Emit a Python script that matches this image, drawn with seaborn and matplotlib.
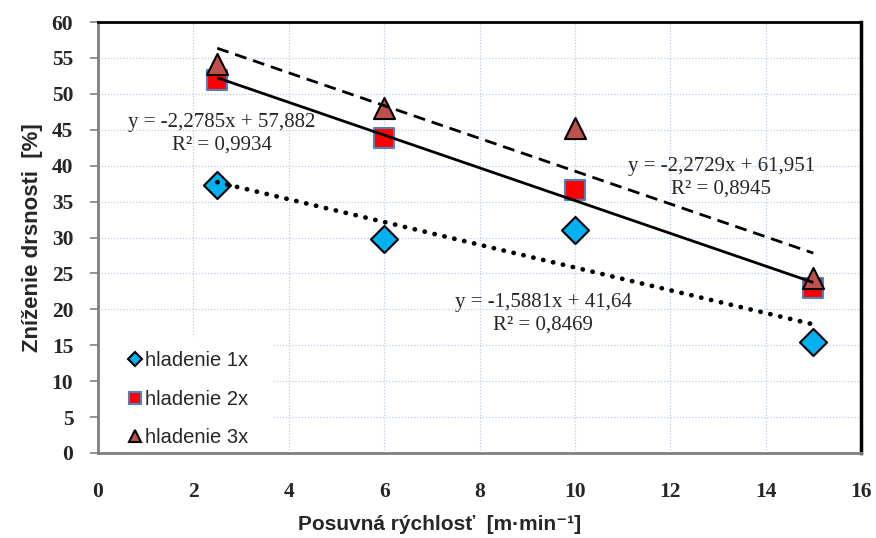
import numpy as np
import pandas as pd
import matplotlib
matplotlib.use("Agg")
import matplotlib.pyplot as plt
import seaborn as sns
from matplotlib.lines import Line2D
from matplotlib.patches import Rectangle

# data
x_vals = [2.5, 6, 10, 15]
h1 = [37.3, 29.8, 31.1, 15.4]
h2 = [52.0, 43.8, 36.6, 23.0]
h3 = [54.2, 48.0, 45.3, 24.3]
labels = ["hladenie 1x", "hladenie 2x", "hladenie 3x"]
eq_texts = ["y = -1,5881x + 41,64\nR² = 0,8469",
            "y = -2,2785x + 57,882\nR² = 0,9934",
            "y = -2,2729x + 61,951\nR² = 0,8945"]
x_ticks = [0, 2, 4, 6, 8, 10, 12, 14, 16]
y_ticks = list(range(0, 61, 5))

sns.set_theme(style="white")
plt.rcParams['font.family'] = ['Liberation Serif', 'DejaVu Serif']

fig = plt.figure(figsize=(8.76, 5.38), dpi=100)
ax = fig.add_axes([0.1119, 0.158, 0.871, 0.801])

series = [
    dict(y=h1, marker="D", face="#00B0F0", edge="black", s=190, ls=(0, (0.05, 2.1)), lw=3.4, cap="round"),
    dict(y=h2, marker="s", face="#FF0000", edge="#4F81BD", s=190, ls="-", lw=2.0, cap="butt"),
    dict(y=h3, marker="^", face="#C0504D", edge="black", s=230, ls=(0, (4.3, 2.5)), lw=2.0, cap="butt"),
]

for lab, sr in zip(labels, series):
    df = pd.DataFrame({"x": x_vals, "y": sr["y"]})
    sns.scatterplot(data=df, x="x", y="y", ax=ax, marker=sr["marker"], color=sr["face"],
                    edgecolor=sr["edge"], linewidth=1.5, s=sr["s"], zorder=3, legend=False)
    sns.regplot(data=df, x="x", y="y", ax=ax, scatter=False, ci=None, truncate=True,
                line_kws=dict(color="black", linestyle=sr["ls"], linewidth=sr["lw"],
                              solid_capstyle=sr["cap"], dash_capstyle=sr["cap"], zorder=4))

ax.set_xlim(0, 16)
ax.set_ylim(0, 60)
ax.set_xticks(x_ticks)
ax.set_yticks(y_ticks)
ax.grid(True, color="#B9CDE5", linestyle=(0, (1, 1.5)), linewidth=0.9)
ax.set_axisbelow(True)

for lbl in ax.get_xticklabels() + ax.get_yticklabels():
    lbl.set_fontweight("bold")
    lbl.set_fontsize(15.5)
    lbl.set_family(["Liberation Serif"])
ax.tick_params(axis="y", which="major", length=5.8, width=1.2, color="#808080", left=True, pad=12)
ax.tick_params(axis="x", which="major", length=0, pad=21)

ax.spines["left"].set_color("#808080")
ax.spines["bottom"].set_color("#808080")
ax.spines["left"].set_linewidth(2)
ax.spines["bottom"].set_linewidth(2)
ax.spines["top"].set_color("black")
ax.spines["right"].set_color("black")
ax.spines["top"].set_linewidth(2)
ax.spines["right"].set_linewidth(2.5)

ax.set_xlabel("Posuvná rýchlosť  [m·min⁻¹]", fontsize=15, fontweight="bold",
              family=["Liberation Sans", "DejaVu Sans"])
ax.xaxis.set_label_coords(0.448, -0.143)
ax.set_ylabel("Zníženie drsnosti  [%]", fontsize=16, fontweight="bold",
              family=["Liberation Sans", "DejaVu Sans"], labelpad=6)

# equation annotations
eq_pos = [(9.34, 19.4), (2.6, 44.5), (13.07, 38.3)]
for (tx, ty), t in zip(eq_pos, eq_texts):
    ax.text(tx, ty, t, ha="center", va="center", fontsize=15, linespacing=1.25,
            family=["Liberation Serif"], zorder=5)

# white area behind legend
ax.add_patch(Rectangle((0, 0), 0.229, 0.27, transform=ax.transAxes, facecolor="white",
                       edgecolor="none", zorder=1.5))

# legend
handles = [Line2D([], [], linestyle="none", marker=sr["marker"], markerfacecolor=sr["face"],
                  markeredgecolor=sr["edge"], markeredgewidth=1.5,
                  markersize=(8 if sr["marker"] != "D" else 7)) for sr in series]
leg = ax.legend(handles, labels, loc="center left", bbox_to_anchor=(0.0406, 0.125),
                frameon=False, prop=dict(family="Liberation Sans", size=14.5), labelspacing=0.95,
                handlelength=0.6, handletextpad=0.2, borderpad=0, borderaxespad=0)
leg.set_zorder(6)

fig.savefig("out.png", dpi=100)
